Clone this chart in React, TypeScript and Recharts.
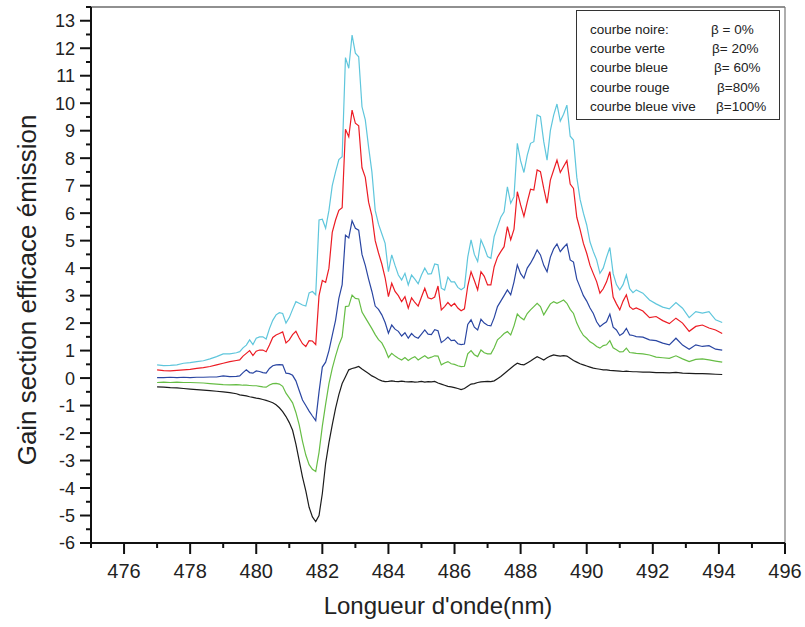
// Gain section efficace émission vs wavelength, five beta values
import { LineChart, Line, XAxis, YAxis, ReferenceLine } from "recharts";

// wavelength (nm): 0.2 steps on the tails, 0.1 steps in the active region
const nm = [
  477.0, 477.2, 477.4, 477.6, 477.8, 478.0, 478.2, 478.4, 478.6, 478.8, 479.0, 479.2, 479.4,
  479.5, 479.6, 479.7, 479.8, 479.9,
  480.0, 480.1, 480.2, 480.3, 480.4, 480.5, 480.6, 480.7, 480.8, 480.9,
  481.0, 481.1, 481.2, 481.3, 481.4, 481.5, 481.6, 481.7, 481.8, 481.9,
  482.0, 482.1, 482.2, 482.3, 482.4, 482.5, 482.6, 482.7, 482.8, 482.9,
  483.0, 483.1, 483.2, 483.3, 483.4, 483.5, 483.6, 483.7, 483.8, 483.9,
  484.0, 484.1, 484.2, 484.3, 484.4, 484.5, 484.6, 484.7, 484.8, 484.9,
  485.0, 485.1, 485.2, 485.3, 485.4, 485.5, 485.6, 485.7, 485.8, 485.9,
  486.0, 486.1, 486.2, 486.3, 486.4, 486.5, 486.6, 486.7, 486.8, 486.9,
  487.0, 487.1, 487.2, 487.3, 487.4, 487.5, 487.6, 487.7, 487.8, 487.9,
  488.0, 488.1, 488.2, 488.3, 488.4, 488.5, 488.6, 488.7, 488.8, 488.9,
  489.0, 489.1, 489.2, 489.3, 489.4, 489.5, 489.6, 489.7, 489.8, 489.9,
  490.0, 490.1, 490.2, 490.3, 490.4, 490.5, 490.6, 490.7, 490.8, 490.9,
  491.0, 491.1, 491.2, 491.3, 491.4, 491.5,
  491.7, 491.9, 492.1, 492.3, 492.5, 492.7, 492.9, 493.1, 493.3, 493.5, 493.7, 493.9, 494.1,
];

// courbe noire, beta = 0%
const noire = [
  -0.32, -0.33, -0.35, -0.36, -0.38, -0.4, -0.42, -0.44, -0.46, -0.48, -0.5, -0.53, -0.57,
  -0.61, -0.63, -0.65, -0.68, -0.7,
  -0.73, -0.75, -0.78, -0.81, -0.85, -0.9, -0.97, -1.08, -1.22, -1.4,
  -1.62, -1.9, -2.4, -3.0, -3.6, -4.1, -4.7, -5.05, -5.22, -5.0,
  -4.2, -3.1, -2.35, -1.7, -1.1, -0.6, -0.2, 0.05, 0.3, 0.35,
  0.38, 0.42, 0.33, 0.25, 0.17, 0.08, 0.02, -0.05, -0.1, -0.13,
  -0.12, -0.1, -0.12, -0.13, -0.11, -0.13, -0.14, -0.13, -0.15, -0.14,
  -0.12, -0.15, -0.13, -0.14, -0.12, -0.18, -0.22, -0.26, -0.3, -0.32,
  -0.35, -0.38, -0.42, -0.38, -0.3, -0.22, -0.2, -0.16, -0.14, -0.13,
  -0.12, -0.13, -0.1, -0.02, 0.06, 0.16, 0.26, 0.36, 0.46, 0.54,
  0.5, 0.48, 0.55, 0.62, 0.7, 0.78, 0.72, 0.66, 0.74, 0.8,
  0.84, 0.82, 0.8, 0.82, 0.8, 0.72, 0.64, 0.58, 0.52, 0.48,
  0.44, 0.4, 0.36, 0.34, 0.32, 0.3, 0.3, 0.28, 0.27, 0.26,
  0.25, 0.24, 0.25, 0.24, 0.23, 0.23,
  0.22, 0.22, 0.2, 0.2, 0.19, 0.21, 0.18, 0.17, 0.16, 0.16, 0.15, 0.14, 0.13,
];

// courbe verte, beta = 20%
const verte = [
  -0.16, -0.15, -0.16, -0.15, -0.16, -0.16, -0.17, -0.18, -0.2, -0.22, -0.24, -0.25, -0.24,
  -0.25, -0.26, -0.26, -0.27, -0.28,
  -0.28, -0.3, -0.32, -0.33, -0.25, -0.2, -0.19, -0.22, -0.3, -0.55,
  -0.72, -0.9, -1.25, -1.7, -2.3, -2.8, -3.15, -3.32, -3.4, -2.7,
  -1.75, -0.95, -0.2, 0.35, 0.8, 1.2, 1.5, 2.6, 2.62, 3.02,
  2.9, 2.88, 2.4, 2.2, 2.0, 1.8, 1.58, 1.4, 1.28, 1.05,
  0.75, 0.9, 0.8, 0.72, 0.66, 0.75, 0.64, 0.72, 0.78, 0.66,
  0.74, 0.81, 0.72, 0.76, 0.81, 0.8, 0.48, 0.55, 0.6, 0.52,
  0.5, 0.45, 0.42, 0.43, 0.88, 1.0, 0.85, 0.78, 1.02, 0.92,
  0.88, 0.88, 1.1, 1.39, 1.5, 1.62, 1.69, 1.57, 1.9, 2.33,
  2.2, 2.12, 2.35, 2.48, 2.6, 2.72, 2.6, 2.3, 2.5, 2.7,
  2.78, 2.72, 2.78, 2.84, 2.72, 2.5, 2.35, 2.0, 1.75, 1.55,
  1.45, 1.32, 1.25, 1.15, 1.09, 1.18, 1.21, 1.36, 1.1, 1.03,
  0.95, 0.96, 1.09, 0.93, 0.92, 0.9,
  0.88, 0.84, 0.76, 0.74, 0.72, 0.81, 0.7, 0.6, 0.68, 0.7, 0.66, 0.62, 0.58,
];

// courbe bleue, beta = 60%
const bleue = [
  0.02, 0.02, 0.03, 0.02, 0.03, 0.02, 0.03, 0.03, 0.04, 0.04, 0.08, 0.05, 0.06,
  0.08, 0.2, 0.3, 0.2, 0.18,
  0.26, 0.24, 0.2, 0.18, 0.35, 0.45, 0.48, 0.49, 0.48, 0.18,
  0.16, 0.1, -0.1, -0.45, -0.8, -1.0, -1.2, -1.38, -1.55, -0.5,
  0.4, 0.58, 1.0, 1.55, 2.1, 2.9, 3.4, 5.2, 5.1, 5.72,
  5.45, 5.38, 4.5, 4.1, 3.6, 3.15, 2.62, 2.5, 2.3, 2.02,
  1.63, 1.93, 1.78, 1.7, 1.53, 1.65, 1.45, 1.62, 1.5, 1.45,
  1.6, 1.75, 1.6, 1.58, 1.76, 1.72, 1.29, 1.38, 1.49, 1.36,
  1.38, 1.25, 1.22, 1.24, 1.95, 2.12, 1.85, 1.75, 2.14, 2.0,
  1.92, 1.9, 2.2, 2.6, 2.8, 3.0, 3.21, 3.03, 3.5, 4.12,
  3.8, 3.63, 4.0, 4.18, 4.4, 4.66, 4.48, 4.1, 3.87, 4.4,
  4.7, 4.88, 4.6, 4.75, 4.88, 4.3, 4.22, 3.6, 3.3, 3.0,
  2.8, 2.55, 2.35, 2.05, 1.87, 1.97, 2.05, 2.33, 1.85, 1.75,
  1.55, 1.63, 1.81, 1.57, 1.55, 1.51,
  1.49, 1.39, 1.36, 1.27, 1.21, 1.45, 1.2, 1.05, 1.21, 1.15, 1.18, 1.05, 1.02,
];

// courbe rouge, beta = 80%
const rouge = [
  0.3, 0.27, 0.26, 0.28, 0.3, 0.32, 0.35, 0.38, 0.42, 0.48, 0.54, 0.6, 0.64,
  0.66, 0.8, 0.9, 1.0, 0.82,
  0.98, 1.02, 1.02, 0.96, 1.2, 1.48, 1.57, 1.62, 1.68, 1.28,
  1.39, 1.58, 1.7, 1.46, 1.25, 1.15, 1.36, 1.35, 1.22, 3.0,
  3.55, 3.48, 4.0, 5.3, 5.75, 6.1, 6.2, 9.05, 8.78, 9.75,
  9.27, 9.18, 7.65, 7.3, 6.4, 5.9, 5.0, 4.55, 4.15, 3.65,
  2.96, 3.45, 3.15, 3.0, 2.78, 2.96, 2.54, 2.92, 2.75, 2.62,
  2.95, 3.27, 2.92, 2.88, 2.95, 3.35, 2.48, 2.6, 2.75, 2.62,
  2.72, 2.55, 2.45, 2.52, 3.35, 3.87, 3.55, 3.21, 3.87, 3.7,
  3.39, 3.39, 4.05, 4.4, 4.6, 4.78, 5.51, 5.03, 5.42, 6.78,
  6.3, 5.88, 6.4, 6.87, 6.84, 7.57, 7.51, 6.9, 6.36, 7.2,
  7.57, 7.93, 7.48, 7.7, 7.91, 7.06, 6.9, 5.85, 5.4, 4.9,
  4.54, 4.1, 3.8, 3.51, 3.09, 3.25, 3.5, 3.87, 2.95, 2.7,
  2.48, 2.8, 3.03, 2.6, 2.5, 2.55,
  2.44, 2.2, 2.24, 2.09, 1.98, 2.18, 2.0, 1.7, 1.88, 1.93, 1.82, 1.75, 1.62,
];

// courbe bleue vive, beta = 100%
const bleueVive = [
  0.48, 0.45, 0.46, 0.48, 0.54, 0.56, 0.6, 0.63, 0.7, 0.78, 0.88, 0.88, 0.92,
  0.96, 1.1, 1.2, 1.39, 1.22,
  1.45, 1.5, 1.5, 1.42, 1.8, 2.1, 2.3, 2.38, 2.35, 2.0,
  2.2, 2.5, 2.78, 2.72, 2.66, 2.62, 3.1, 3.15, 3.03, 5.75,
  5.78, 5.45, 6.1, 7.0, 7.5, 7.95, 8.05, 11.66, 11.27, 12.48,
  11.82, 11.69, 9.87, 9.39, 8.4, 7.5, 6.1, 5.6, 5.25, 4.9,
  3.87, 4.48, 4.1, 3.75, 3.57, 3.81, 3.39, 3.75, 3.6, 3.43,
  3.75, 4.0, 3.78, 3.8, 4.15, 4.12, 3.27, 3.2, 3.67, 3.5,
  3.5, 3.3, 3.21, 3.3, 4.4, 5.03, 4.5, 4.24, 5.03, 4.75,
  4.42, 4.36, 5.15, 5.5, 5.85, 6.05, 6.96, 6.36, 6.6, 8.54,
  7.9, 7.48, 8.1, 8.54, 8.6, 9.57, 9.51, 8.6, 7.93, 9.0,
  9.57, 9.97, 9.35, 9.6, 9.93, 8.8, 8.66, 7.3, 6.5, 6.0,
  5.57, 4.95, 4.6, 4.3, 3.81, 4.0, 4.4, 4.75, 3.8, 3.4,
  3.21, 3.4, 3.75, 3.25, 3.11, 3.21,
  3.09, 2.84, 2.7, 2.58, 2.52, 2.75, 2.54, 2.2, 2.42, 2.36, 2.42, 2.12, 2.02,
];

const xTicks = [475, 476, 477, 478, 479, 480, 481, 482, 483, 484, 485, 486, 487, 488, 489, 490, 491, 492, 493, 494, 495, 496];
const yTicks = [
  -6, -5.5, -5, -4.5, -4, -3.5, -3, -2.5, -2, -1.5, -1, -0.5, 0, 0.5, 1, 1.5, 2, 2.5, 3, 3.5,
  4, 4.5, 5, 5.5, 6, 6.5, 7, 7.5, 8, 8.5, 9, 9.5, 10, 10.5, 11, 11.5, 12, 12.5, 13, 13.5,
];

const legendRows = [
  ["courbe noire:", "β = 0%"],
  ["courbe verte", "β= 20%"],
  ["courbe bleue", "β= 60%"],
  ["courbe rouge", "β=80%"],
  ["courbe bleue vive", "β=100%"],
];

const FONT = "'Liberation Sans', Arial, Helvetica, sans-serif";

const rows = nm.map((x, i) => ({
  nm: x,
  noire: noire[i],
  verte: verte[i],
  bleue: bleue[i],
  rouge: rouge[i],
  bleueVive: bleueVive[i],
}));

function XTick(props: any) {
  const { x, y, payload } = props;
  const major = payload.value % 2 === 0;
  return (
    <g>
      <line x1={x} x2={x} y1={y} y2={y + (major ? 11 : 5)} stroke="#111" strokeWidth={2} />
      {major && (
        <text x={x} y={y + 35} textAnchor="middle" fontSize={20} fontFamily={FONT} fill="#222">
          {payload.value}
        </text>
      )}
    </g>
  );
}

function YTick(props: any) {
  const { x, y, payload } = props;
  const major = Number.isInteger(payload.value);
  return (
    <g>
      <line x1={x} x2={x - (major ? 11 : 5)} y1={y} y2={y} stroke="#111" strokeWidth={2} />
      {major && (
        <text x={x - 16} y={y} dy="0.36em" textAnchor="end" fontSize={18} fontFamily={FONT} fill="#222">
          {payload.value}
        </text>
      )}
    </g>
  );
}

export default function App() {
  return (
    <div style={{ position: "absolute", left: 0, top: 0, width: 805, height: 627, background: "#fff" }}>
      <LineChart width={805} height={627} data={rows} margin={{ top: 7, right: 20, bottom: 0, left: 0 }}>
        <XAxis
          dataKey="nm"
          type="number"
          domain={[475, 496]}
          ticks={xTicks}
          interval={0}
          height={84}
          tickSize={0}
          tickMargin={0}
          tickLine={false}
          tick={<XTick />}
          axisLine={{ stroke: "#111", strokeWidth: 2 }}
          label={{
            content: (p: any) => (
              <text
                x={p.viewBox.x + p.viewBox.width / 2}
                y={614}
                textAnchor="middle"
                fontSize={24}
                fontFamily={FONT}
                fill="#222"
              >
                Longueur d'onde(nm)
              </text>
            ),
          }}
        />
        <YAxis
          type="number"
          domain={[-6, 13.5]}
          ticks={yTicks}
          interval={0}
          width={91}
          tickSize={0}
          tickMargin={0}
          tickLine={false}
          tick={<YTick />}
          axisLine={{ stroke: "#111", strokeWidth: 2 }}
          label={{
            content: () => (
              <text
                transform="translate(36, 290) rotate(-90)"
                textAnchor="middle"
                fontSize={26}
                fontFamily={FONT}
                fill="#222"
              >
                Gain section efficace émission
              </text>
            ),
          }}
        />
        <ReferenceLine y={13.5} stroke="#222" strokeWidth={1.2} ifOverflow="visible" />
        <ReferenceLine x={496} stroke="#777" strokeWidth={1.2} ifOverflow="visible" />

        <Line type="linear" dataKey="noire" stroke="#1c1c1c" strokeWidth={1.2} dot={false} isAnimationActive={false} />
        <Line type="linear" dataKey="verte" stroke="#66bd45" strokeWidth={1.2} dot={false} isAnimationActive={false} />
        <Line type="linear" dataKey="bleue" stroke="#2a46a2" strokeWidth={1.2} dot={false} isAnimationActive={false} />
        <Line type="linear" dataKey="rouge" stroke="#ec1c24" strokeWidth={1.2} dot={false} isAnimationActive={false} />
        <Line type="linear" dataKey="bleueVive" stroke="#5fc6dc" strokeWidth={1.2} dot={false} isAnimationActive={false} />
      </LineChart>

      {/* legend box */}
      <div
        style={{
          position: "absolute",
          left: 576,
          top: 10,
          width: 202,
          height: 108,
          border: "1.5px solid #333",
          background: "#fff",
          fontFamily: FONT,
          fontSize: 13.5,
          color: "#222",
        }}
      >
        {legendRows.map(([name, beta], i) => (
          <div key={name} style={{ position: "absolute", top: 9 + i * 19.2, left: 13, lineHeight: "19px", whiteSpace: "nowrap" }}>
            {name}
          </div>
        ))}
        {legendRows.map(([name, beta], i) => (
          <div
            key={beta}
            style={{
              position: "absolute",
              top: 9 + i * 19.2,
              left: [134, 135, 137, 140, 139][i],
              lineHeight: "19px",
              whiteSpace: "nowrap",
            }}
          >
            {beta}
          </div>
        ))}
      </div>
    </div>
  );
}
